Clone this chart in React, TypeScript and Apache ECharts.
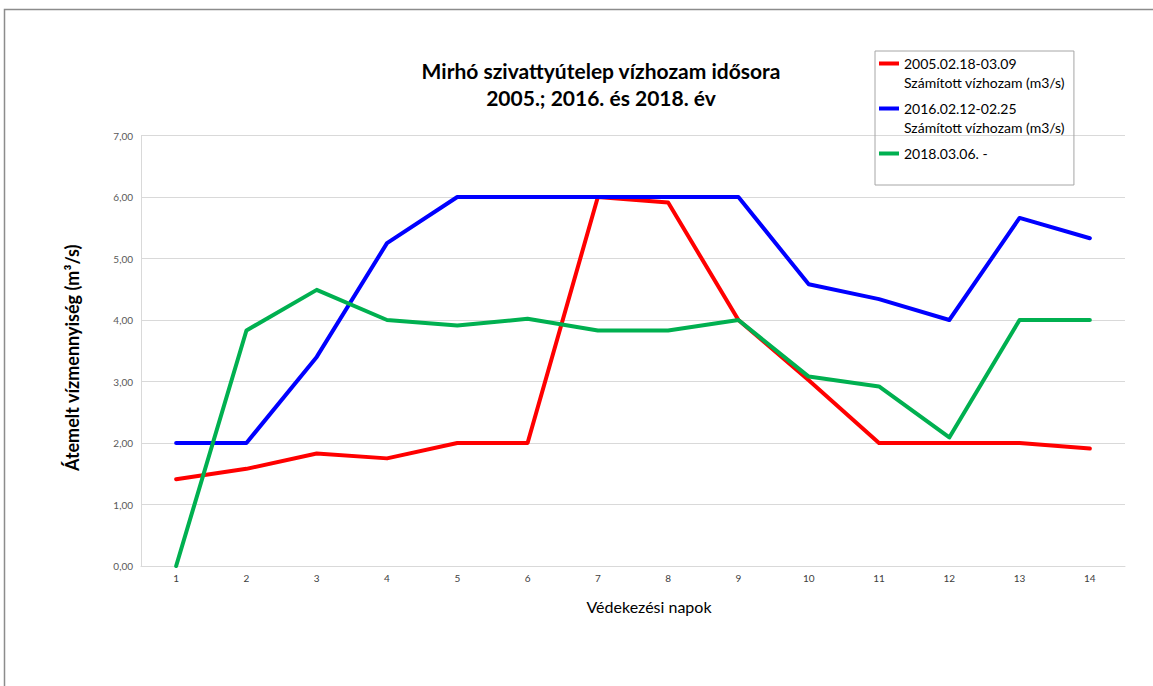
import React, { useEffect, useRef } from "react";
import * as echarts from "echarts";

const days = ["1", "2", "3", "4", "5", "6", "7", "8", "9", "10", "11", "12", "13", "14"];
const red2005 = [1.41, 1.58, 1.83, 1.75, 2.0, 2.0, 6.0, 5.91, 4.0, 3.02, 2.0, 2.0, 2.0, 1.91];
const blue2016 = [2.0, 2.0, 3.4, 5.25, 6.0, 6.0, 6.0, 6.0, 6.0, 4.58, 4.34, 4.0, 5.66, 5.33];
const green2018 = [0.0, 3.83, 4.49, 4.0, 3.91, 4.02, 3.83, 3.83, 4.0, 3.08, 2.92, 2.09, 4.0, 4.0];

const name2005 = "2005.02.18-03.09\nSzámított vízhozam (m3/s)";
const name2016 = "2016.02.12-02.25\nSzámított vízhozam (m3/s)";
const name2018 = "2018.03.06. -";

const titleText = "Mirhó szivattyútelep vízhozam idősora\n2005.; 2016. és 2018. év";
const yName = "Átemelt vízmennyiség (m³/s)";
const xName = "Védekezési napok";

const FONT = "Lato";
const ICON =
  "path://M0,0h0.01v0.01h-0.01Z M0,7.5h20v4h-20Z M0,37.99h0.01v0.01h-0.01Z";

export default function App() {
  const ref = useRef<HTMLDivElement>(null);
  useEffect(() => {
    if (!ref.current) return;
    const chart = echarts.init(ref.current, null, { renderer: "svg" });
    const lineSeries = (name: string, data: number[], color: string) => ({
      name,
      type: "line",
      data,
      symbol: "none",
      color,
      lineStyle: { width: 4, color, cap: "round", join: "round" },
    });
    chart.setOption({
      animation: false,
      backgroundColor: "#ffffff",
      textStyle: { fontFamily: FONT },
      graphic: [
        {
          type: "rect",
          shape: { x: 4.5, y: 9.5, width: 1300, height: 800 },
          style: { fill: "none", stroke: "#8c8c8c", lineWidth: 1.5 },
          silent: true,
        },
      ],
      title: {
        text: titleText,
        left: 596,
        textAlign: "center",
        top: 52,
        textStyle: {
          fontFamily: FONT,
          fontSize: 21,
          fontWeight: "bold",
          color: "#000000",
          lineHeight: 27,
        },
      },
      legend: {
        orient: "vertical",
        left: 875,
        top: 51,
        padding: [3, 9, 3, 4],
        borderColor: "#a6a6a6",
        borderWidth: 1,
        itemWidth: 20,
        itemHeight: 38,
        itemGap: 7,
        icon: ICON,
        itemStyle: { borderWidth: 0 },
        textStyle: { fontFamily: FONT, fontSize: 14, color: "#000000", lineHeight: 19 },
        formatter: (n: string) => (n === name2018 ? n + "\n" : n),
        data: [{ name: name2005 }, { name: name2016 }, { name: name2018 }],
      },
      grid: { left: 141, right: 28, top: 135.5, bottom: 120, containLabel: false },
      xAxis: {
        type: "category",
        data: days,
        boundaryGap: true,
        axisLine: { show: true, lineStyle: { color: "#d9d9d9", width: 1 } },
        axisTick: { show: false },
        axisLabel: { fontFamily: FONT, fontSize: 10, color: "#404040", margin: 7 },
        name: xName,
        nameLocation: "middle",
        nameGap: 32,
        nameTextStyle: { fontFamily: FONT, fontSize: 16, color: "#000000", padding: [0, 0, 0, 32] },
      },
      yAxis: {
        type: "value",
        min: 0,
        max: 7,
        interval: 1,
        axisLine: { show: true, lineStyle: { color: "#d9d9d9", width: 1 } },
        axisTick: { show: false },
        splitLine: { lineStyle: { color: "#d9d9d9", width: 1 } },
        axisLabel: {
          fontFamily: FONT,
          fontSize: 10,
          color: "#595959",
          margin: 8,
          formatter: (v: number) => v.toFixed(2).replace(".", ","),
        },
        name: yName,
        nameLocation: "middle",
        nameGap: 60,
        nameTextStyle: {
          fontFamily: FONT,
          fontSize: 18,
          fontWeight: "bold",
          color: "#000000",
          padding: [0, 14, 0, 0],
        },
      },
      series: [
        lineSeries(name2005, red2005, "#ff0000"),
        lineSeries(name2016, blue2016, "#0000ff"),
        lineSeries(name2018, green2018, "#00b050"),
      ],
    });
    return () => chart.dispose();
  }, []);
  return (
    <div
      ref={ref}
      style={{ position: "absolute", left: 0, top: 0, width: 1153, height: 686 }}
    />
  );
}
